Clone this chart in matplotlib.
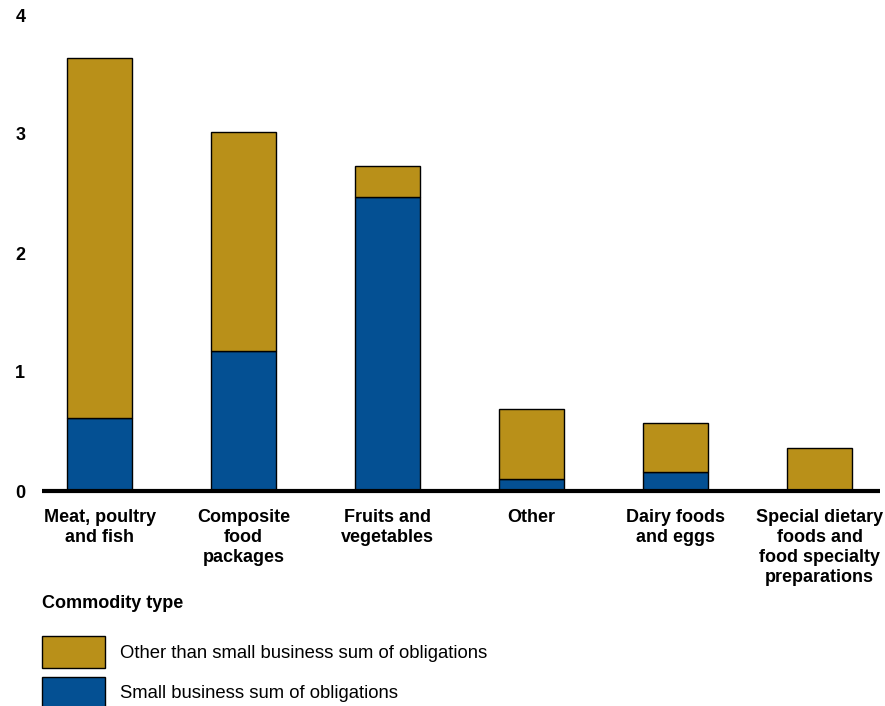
import matplotlib.pyplot as plt
from matplotlib.patches import Rectangle
import numpy as np

plt.rcParams['font.family'] = ['Liberation Sans', 'DejaVu Sans']

categories = [
    "Meat, poultry\nand fish",
    "Composite\nfood\npackages",
    "Fruits and\nvegetables",
    "Other",
    "Dairy foods\nand eggs",
    "Special dietary\nfoods and\nfood specialty\npreparations",
]
small_business = [0.61, 1.18, 2.47, 0.10, 0.16, 0.01]
other_than_small = [3.03, 1.84, 0.26, 0.59, 0.41, 0.35]

series_labels = ["Other than small business sum of obligations",
                 "Small business sum of obligations"]
series_colors = ["#B99019", "#045093"]
legend_title = "Commodity type"

fig = plt.figure(figsize=(8.85, 7.06), dpi=100)
ax = fig.add_axes([42 / 885, 1 - 491 / 706, 838 / 885, 476 / 706])

x = np.arange(len(categories))
width = 0.45
ax.bar(x, small_business, width, color=series_colors[1], edgecolor='black', linewidth=1)
ax.bar(x, other_than_small, width, bottom=small_business,
       color=series_colors[0], edgecolor='black', linewidth=1)

ax.set_xlim(-0.40, 5.42)
ax.set_ylim(0, 4)
ax.set_yticks([0, 1, 2, 3, 4])
ax.set_xticks(x)
ax.set_xticklabels(categories, fontweight='bold', fontsize=13, linespacing=1.22)
for lbl in ax.get_yticklabels():
    lbl.set_fontweight('bold')
    lbl.set_fontsize(13)
ax.tick_params(axis='y', length=0, pad=12)
ax.tick_params(axis='x', length=0, pad=13)

for side in ['top', 'right', 'left']:
    ax.spines[side].set_visible(False)
ax.spines['bottom'].set_linewidth(3)
ax.spines['bottom'].set_capstyle('butt')

# legend drawn by hand below the axis labels
fig.text(42 / 885, 1 - 603 / 706, legend_title, fontweight='bold', fontsize=13,
         va='center', ha='left')
patch_tops = [636, 677]
for top, color, label in zip(patch_tops, series_colors, series_labels):
    fig.add_artist(Rectangle((42 / 885, 1 - (top + 32) / 706), 63 / 885, 32 / 706,
                             transform=fig.transFigure, facecolor=color,
                             edgecolor='black', linewidth=1))
    fig.text(120 / 885, 1 - (top + 17) / 706, label, fontsize=13.3,
             va='center', ha='left')

fig.savefig('out.png', dpi=100)
